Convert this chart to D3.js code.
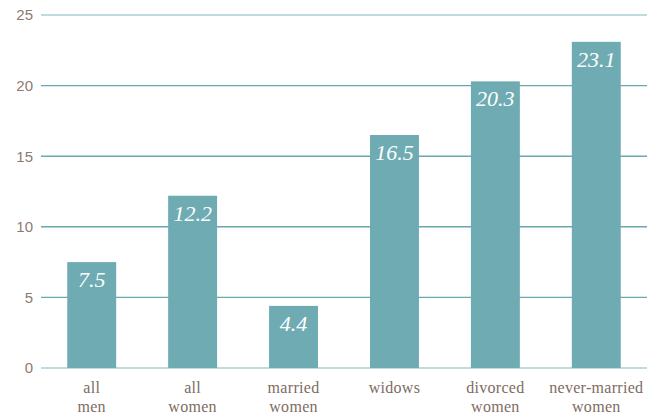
<!DOCTYPE html>
<html>
<head>
<meta charset="utf-8">
<script src="https://cdn.jsdelivr.net/npm/d3@7"></script>
<style>
  body { margin: 0; background: #fff; }
</style>
</head>
<body>
<svg id="chart" width="664" height="415"></svg>
<script>
const categories = [["all", "men"], ["all", "women"], ["married", "women"], ["widows"], ["divorced", "women"], ["never-married", "women"]];
const values = [7.5, 12.2, 4.4, 16.5, 20.3, 23.1];
const yTicks = [0, 5, 10, 15, 20, 25];

const svg = d3.select("#chart");
const margin = { top: 15, right: 17, bottom: 47, left: 41 };
const width = 664, height = 415;

const x = d3.scaleBand()
  .domain(d3.range(values.length))
  .range([margin.left, width - margin.right])
  .paddingInner(0.515)
  .paddingOuter(0.26);

const y = d3.scaleLinear()
  .domain([0, 25])
  .range([height - margin.bottom, margin.top]);

// gridlines
svg.append("g")
  .selectAll("line")
  .data(yTicks)
  .join("line")
  .attr("x1", margin.left)
  .attr("x2", width - margin.right)
  .attr("y1", d => y(d))
  .attr("y2", d => y(d))
  .attr("stroke", d => (d === 25 || d === 0) ? "#a9d0d3" : "#68a8af")
  .attr("stroke-width", 1.4);

// y labels
svg.append("g")
  .selectAll("text")
  .data(yTicks)
  .join("text")
  .attr("x", 33)
  .attr("y", d => y(d))
  .attr("dy", "0.36em")
  .attr("text-anchor", "end")
  .attr("font-family", "Liberation Sans, Arial, sans-serif")
  .attr("font-size", 15)
  .attr("fill", "#8b7b72")
  .text(d => d);

// bars
svg.append("g")
  .selectAll("rect")
  .data(values)
  .join("rect")
  .attr("x", (d, i) => x(i))
  .attr("width", x.bandwidth())
  .attr("y", d => y(d))
  .attr("height", d => y(0) - y(d))
  .attr("fill", "#6fabb2");

// value labels
svg.append("g")
  .selectAll("text")
  .data(values)
  .join("text")
  .attr("x", (d, i) => x(i) + x.bandwidth() / 2)
  .attr("y", d => y(d) + 25)
  .attr("text-anchor", "middle")
  .attr("font-family", "Liberation Serif, serif")
  .attr("font-style", "italic")
  .attr("font-size", 22)
  .attr("fill", "#fff")
  .text(d => d.toFixed(1));

// category labels
const cat = svg.append("g")
  .selectAll("text")
  .data(categories)
  .join("text")
  .attr("x", (d, i) => x(i) + x.bandwidth() / 2)
  .attr("y", 393)
  .attr("text-anchor", "middle")
  .attr("font-family", "Liberation Serif, serif")
  .attr("font-size", 16)
  .attr("letter-spacing", 0.3)
  .attr("fill", "#7d6c63");

cat.selectAll("tspan")
  .data(d => d)
  .join("tspan")
  .attr("x", function () { return this.parentNode.getAttribute("x"); })
  .attr("dy", (d, i) => i === 0 ? 0 : 19)
  .text(d => d);
</script>
</body>
</html>
